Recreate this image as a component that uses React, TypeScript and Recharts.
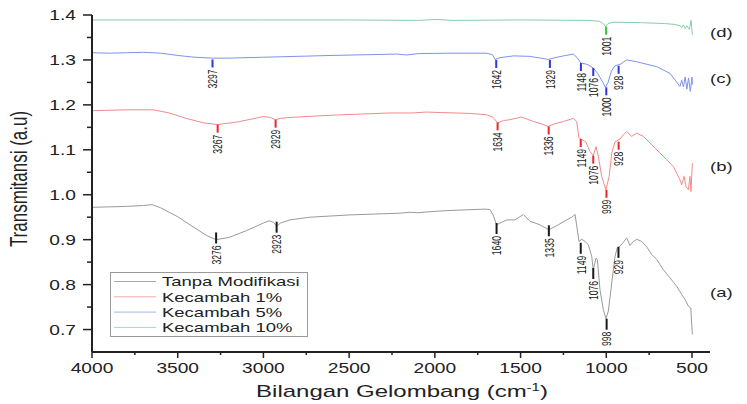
import React from 'react';
import { ComposedChart, Line, XAxis, YAxis, Scatter, Legend, Customized } from 'recharts';

// ---- axis ticks ----
const xMajor = [4000, 3500, 3000, 2500, 2000, 1500, 1000, 500];
const xMinor = [3750, 3250, 2750, 2250, 1750, 1250, 750];
const yMajor = [0.7, 0.8, 0.9, 1.0, 1.1, 1.2, 1.3, 1.4];
const yMinor = [0.75, 0.85, 0.95, 1.05, 1.15, 1.25, 1.35];

// ---- series names / colours ----
const seriesNames = ['Tanpa Modifikasi', 'Kecambah 1%', 'Kecambah 5%', 'Kecambah 10%'];
const seriesColors = ['#9a9a9a', '#f28b8b', '#7e93ea', '#86cfa4'];
const legendColors = ['#a8a8a8', '#f4a8a8', '#a8b6ee', '#a2dcc4'];
const markerColors = ['#1a1a1a', '#e8262b', '#2b35e0', '#36c23e'];
const sideLabels = ['(a)', '(b)', '(c)', '(d)'];

// ---- (a) Tanpa Modifikasi ----
const waveA = [4000, 3900, 3800, 3700, 3650, 3600, 3500, 3400, 3330, 3276, 3200, 3100, 3000, 2965, 2940, 2923, 2900, 2845, 2728, 2500, 2200, 2150, 2100, 2000, 1912, 1707, 1678, 1660, 1640, 1620, 1581, 1532, 1484, 1445, 1387, 1335, 1280, 1231, 1202, 1182, 1159, 1143, 1124, 1105, 1085, 1076, 1060, 1052, 1037, 1017, 1002, 988, 968, 949, 936, 920, 901, 881, 862, 842, 823, 793, 764, 735, 706, 667, 628, 589, 560, 541, 521, 507, 498];
const transA = [0.972, 0.973, 0.974, 0.976, 0.978, 0.971, 0.951, 0.926, 0.909, 0.900, 0.905, 0.920, 0.937, 0.942, 0.938, 0.930, 0.937, 0.944, 0.950, 0.955, 0.959, 0.961, 0.960, 0.963, 0.965, 0.968, 0.967, 0.955, 0.933, 0.937, 0.944, 0.944, 0.956, 0.941, 0.933, 0.922, 0.933, 0.944, 0.950, 0.956, 0.896, 0.901, 0.896, 0.889, 0.863, 0.833, 0.859, 0.856, 0.789, 0.744, 0.724, 0.741, 0.804, 0.863, 0.882, 0.885, 0.894, 0.904, 0.887, 0.896, 0.901, 0.896, 0.884, 0.867, 0.856, 0.833, 0.815, 0.796, 0.778, 0.767, 0.752, 0.748, 0.689];

// ---- (b) Kecambah 1% ----
const waveB = [4000, 3800, 3642, 3550, 3450, 3350, 3267, 3150, 3050, 3001, 2960, 2929, 2900, 2845, 2600, 2262, 2127, 2050, 1970, 1800, 1698, 1660, 1634, 1600, 1562, 1494, 1425, 1380, 1338, 1300, 1250, 1192, 1173, 1159, 1120, 1095, 1076, 1060, 1046, 1027, 1002, 983, 968, 949, 920, 901, 881, 852, 823, 784, 745, 687, 648, 609, 570, 560, 546, 535, 521, 512, 506, 498];
const transB = [1.187, 1.189, 1.189, 1.182, 1.170, 1.160, 1.156, 1.162, 1.170, 1.174, 1.172, 1.167, 1.170, 1.172, 1.177, 1.182, 1.182, 1.184, 1.183, 1.181, 1.178, 1.172, 1.160, 1.165, 1.167, 1.173, 1.163, 1.158, 1.152, 1.158, 1.163, 1.170, 1.163, 1.126, 1.118, 1.096, 1.087, 1.107, 1.085, 1.041, 1.011, 1.041, 1.093, 1.118, 1.124, 1.133, 1.141, 1.130, 1.137, 1.130, 1.115, 1.093, 1.078, 1.063, 1.033, 1.022, 1.041, 1.018, 1.011, 1.041, 1.007, 1.070];

// ---- (c) Kecambah 5% ----
const waveC = [4000, 3900, 3800, 3700, 3600, 3500, 3400, 3297, 3200, 3000, 2903, 2600, 2223, 2164, 2100, 1931, 1700, 1665, 1649, 1620, 1542, 1450, 1380, 1338, 1300, 1250, 1192, 1170, 1148, 1120, 1105, 1076, 1050, 1020, 1005, 990, 970, 950, 920, 881, 823, 706, 628, 570, 560, 550, 540, 530, 520, 510, 500, 498];
const transC = [1.316, 1.315, 1.316, 1.317, 1.315, 1.310, 1.306, 1.304, 1.304, 1.306, 1.307, 1.310, 1.313, 1.311, 1.314, 1.315, 1.315, 1.312, 1.301, 1.305, 1.309, 1.308, 1.304, 1.301, 1.305, 1.309, 1.313, 1.305, 1.293, 1.291, 1.289, 1.282, 1.270, 1.250, 1.239, 1.250, 1.275, 1.287, 1.290, 1.300, 1.296, 1.285, 1.270, 1.241, 1.255, 1.240, 1.262, 1.235, 1.260, 1.230, 1.262, 1.245];

// ---- (d) Kecambah 10% ----
const waveD = [4000, 3500, 3000, 2500, 2100, 1989, 1900, 1500, 1100, 1040, 1015, 1005, 990, 960, 800, 660, 600, 570, 560, 550, 540, 530, 515, 505, 498];
const transD = [1.389, 1.389, 1.389, 1.389, 1.388, 1.390, 1.388, 1.389, 1.388, 1.386, 1.380, 1.374, 1.381, 1.384, 1.383, 1.381, 1.379, 1.376, 1.372, 1.378, 1.370, 1.376, 1.368, 1.388, 1.356];

// ---- peak markers (wavenumber, top of marker tick) ----
const peaksAx = [3276, 2923, 1640, 1335, 1149, 1076, 998, 929];
const peaksAy = [0.916, 0.940, 0.937, 0.932, 0.893, 0.837, 0.724, 0.884];
const peaksBx = [3267, 2929, 1634, 1336, 1149, 1076, 999, 928];
const peaksBy = [1.156, 1.167, 1.161, 1.152, 1.124, 1.087, 1.011, 1.118];
const peaksCx = [3297, 1642, 1329, 1148, 1076, 1000, 928];
const peaksCy = [1.301, 1.300, 1.300, 1.293, 1.282, 1.239, 1.287];
const peaksDx = [1001];
const peaksDy = [1.374];

const FONT = '"Liberation Sans", Arial, Helvetica, sans-serif';
const SX = 1.37;

const toData = (xs: number[], ys: number[]) => xs.map((x, i) => ({ x, y: ys[i] }));
const toPeaks = (xs: number[], ys: number[]) => xs.map((x, i) => ({ x, y: ys[i], label: String(x) }));

const seriesData = [toData(waveA, transA), toData(waveB, transB), toData(waveC, transC), toData(waveD, transD)];
const peakData = [toPeaks(peaksAx, peaksAy), toPeaks(peaksBx, peaksBy), toPeaks(peaksCx, peaksCy), toPeaks(peaksDx, peaksDy)];
const tickLens = [11, 8, 8, 8];

const makeMarker = (color: string, len: number) => (props: any) => {
  const { cx, cy, payload } = props;
  if (cx == null || cy == null) return <g />;
  const y2 = cy + len;
  return (
    <g>
      <line x1={cx} x2={cx} y1={cy} y2={y2} stroke={color} strokeWidth={2} />
      <text
        transform={`translate(${cx},${y2 + 2}) scale(${SX},0.86) rotate(-90)`}
        textAnchor="end"
        dy="0.35em"
        fontSize={10}
        fontFamily={FONT}
        fill="#1a1a1a"
      >
        {payload.label}
      </text>
    </g>
  );
};

const XTick = (props: any) => {
  const { x, y, payload } = props;
  const v = payload.value;
  const major = xMajor.includes(v);
  return (
    <g>
      <line x1={x} x2={x} y1={y} y2={y + (major ? 6 : 3)} stroke="#222" strokeWidth={1.5} />
      {major && (
        <text transform={`translate(${x},${y + 21}) scale(${SX},1)`} textAnchor="middle" fontSize={14} fontFamily={FONT} fill="#222">
          {v}
        </text>
      )}
    </g>
  );
};

const YTick = (props: any) => {
  const { x, y, payload } = props;
  const v = payload.value;
  const major = yMajor.includes(v);
  return (
    <g>
      <line x1={x - (major ? 9 : 5)} x2={x} y1={y} y2={y} stroke="#222" strokeWidth={1.5} />
      {major && (
        <text transform={`translate(${x - 16},${y + 5}) scale(${SX},1)`} textAnchor="end" fontSize={14} fontFamily={FONT} fill="#222">
          {v.toFixed(1)}
        </text>
      )}
    </g>
  );
};

const LegendBox = () => (
  <svg width={199} height={66} style={{ display: 'block' }}>
    <rect x={0.5} y={0.5} width={197} height={64} fill="#fff" stroke="#9a9a9a" strokeWidth={1} />
    {seriesNames.map((n, i) => {
      const cy = 9.5 + i * 15.3;
      return (
        <g key={n}>
          <line x1={4} x2={46} y1={cy} y2={cy} stroke={legendColors[i]} strokeWidth={1} />
          <text transform={`translate(52,${cy + 4.8}) scale(${SX},1)`} fontSize={13.5} fontFamily={FONT} fill="#222">
            {n}
          </text>
        </g>
      );
    })}
  </svg>
);

const Annotations = () => (
  <g fontFamily={FONT} fill="#222">
    <text transform={`translate(710,297) scale(${SX},1)`} fontSize={13.5}>{sideLabels[0]}</text>
    <text transform={`translate(710,171) scale(${SX},1)`} fontSize={13.5}>{sideLabels[1]}</text>
    <text transform={`translate(710,83) scale(${SX},1)`} fontSize={13.5}>{sideLabels[2]}</text>
    <text transform={`translate(710,37) scale(${SX},1)`} fontSize={13.5}>{sideLabels[3]}</text>
    <text transform={`translate(27,179) scale(${SX},1) rotate(-90)`} textAnchor="middle" fontSize={17}>
      Transmitansi (a.u)
    </text>
    <text transform={`translate(402,397) scale(1.5,1)`} textAnchor="middle" fontSize={16}>
      Bilangan Gelombang (cm
      <tspan fontSize={10} dy={-6}>-1</tspan>
      <tspan dy={6}>)</tspan>
    </text>
  </g>
);

export default function App() {
  return (
    <div style={{ position: 'absolute', left: 0, top: 0, background: '#fff' }}>
      <ComposedChart width={747} height={404} margin={{ top: 15, right: 37, left: 0, bottom: 0 }} style={{ fontFamily: FONT }}>
        <XAxis
          dataKey="x"
          type="number"
          domain={[395, 4000]}
          reversed
          allowDataOverflow
          ticks={[...xMajor, ...xMinor]}
          interval={0}
          height={52}
          tickSize={0}
          tickMargin={0}
          tickLine={false}
          axisLine={{ stroke: '#222', strokeWidth: 2 }}
          tick={<XTick />}
        />
        <YAxis
          dataKey="y"
          type="number"
          domain={[0.65, 1.4]}
          allowDataOverflow
          ticks={[...yMajor, ...yMinor]}
          interval={0}
          width={92}
          tickSize={0}
          tickMargin={0}
          tickLine={false}
          axisLine={{ stroke: '#222', strokeWidth: 2 }}
          tick={<YTick />}
        />
        {seriesData.map((d, i) => (
          <Line
            key={seriesNames[i]}
            data={d}
            dataKey="y"
            name={seriesNames[i]}
            type="linear"
            stroke={seriesColors[i]}
            strokeWidth={1}
            dot={false}
            activeDot={false}
            isAnimationActive={false}
          />
        ))}
        {peakData.map((d, i) => (
          <Scatter
            key={'pk' + i}
            data={d}
            dataKey="y"
            fill={markerColors[i]}
            shape={makeMarker(markerColors[i], tickLens[i])}
            isAnimationActive={false}
            legendType="none"
          />
        ))}
        <Legend
          layout="horizontal"
          verticalAlign="middle"
          align="center"
          content={() => <LegendBox />}
          wrapperStyle={{ left: 110, top: 272, width: 199, height: 66 }}
        />
        <Customized component={Annotations} />
      </ComposedChart>
    </div>
  );
}
